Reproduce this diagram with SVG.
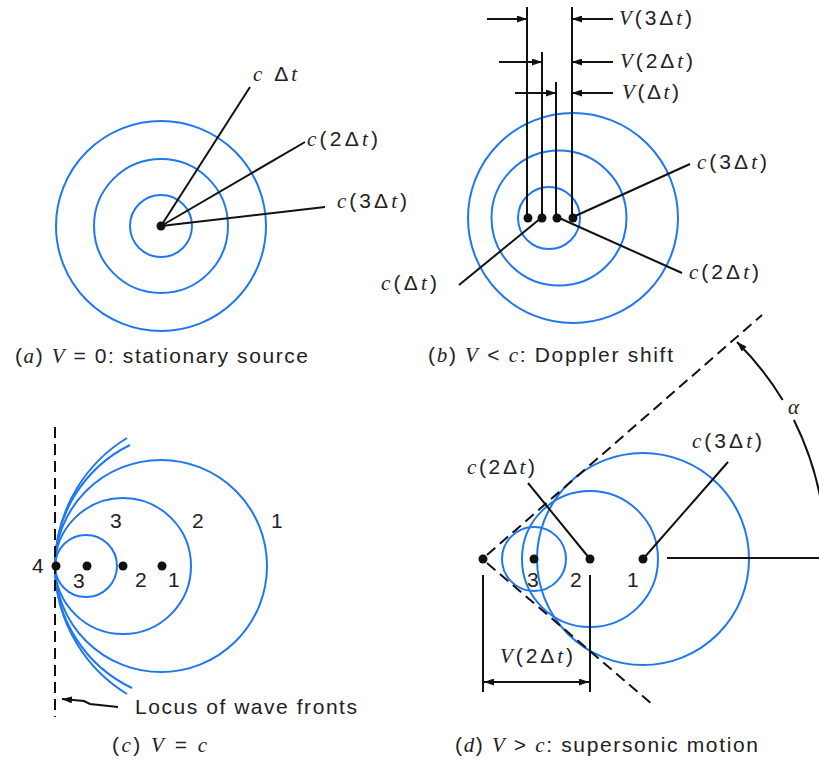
<svg xmlns="http://www.w3.org/2000/svg" width="819" height="764" viewBox="0 0 819 764">
<defs>
<style>
.w{fill:none;stroke:#1f78f0;stroke-width:2}
.k{fill:none;stroke:#111;stroke-width:2}
.d{fill:none;stroke:#111;stroke-width:2;stroke-dasharray:11 6}
.dot{fill:#111}
text{font-family:"Liberation Sans",Arial,sans-serif;font-size:21px;fill:#222}
.it{font-family:"Liberation Serif","Times New Roman",serif;font-style:italic}
</style>
<marker id="ah" viewBox="0 0 10 7" refX="10" refY="3.5" markerWidth="10" markerHeight="7" markerUnits="userSpaceOnUse" orient="auto-start-reverse">
<path d="M0,0 L10,3.5 L0,7 z" fill="#111"/>
</marker>
</defs>
<rect width="819" height="764" fill="#fff"/>

<g id="panel-a">
<g id="a-waves">
<circle class="w" cx="161" cy="226" r="31"/>
<circle class="w" cx="161" cy="226" r="67"/>
<circle class="w" cx="161" cy="226" r="105"/>
</g>
<g id="a-connectors">
<line class="k" x1="161" y1="226" x2="250" y2="87"/>
<line class="k" x1="161" y1="226" x2="305" y2="142"/>
<line class="k" x1="161" y1="226" x2="325" y2="207"/>
</g>
<circle id="a-source" class="dot" cx="161" cy="226" r="4.5"/>
<text x="253" y="81" textLength="44" lengthAdjust="spacing"><tspan class="it">c</tspan> Δ<tspan class="it">t</tspan></text>
<text x="307" y="146" textLength="71" lengthAdjust="spacing"><tspan class="it">c</tspan>(2Δ<tspan class="it">t</tspan>)</text>
<text x="337" y="208" textLength="70" lengthAdjust="spacing"><tspan class="it">c</tspan>(3Δ<tspan class="it">t</tspan>)</text>
<text x="15" y="363" textLength="293" lengthAdjust="spacing">(<tspan class="it">a</tspan>) <tspan class="it">V</tspan> = 0: stationary source</text>
</g>

<g id="panel-b">
<g id="b-waves">
<circle class="w" cx="549" cy="218" r="31"/>
<circle class="w" cx="559" cy="218" r="67.5"/>
<circle class="w" cx="573" cy="218" r="105"/>
</g>
<g id="b-connectors">
<line class="k" x1="527" y1="7" x2="527" y2="214"/>
<line class="k" x1="542" y1="52" x2="542" y2="214"/>
<line class="k" x1="556" y1="82" x2="556" y2="214"/>
<line class="k" x1="572" y1="7" x2="572" y2="214"/>
<line class="k" x1="487" y1="19" x2="527" y2="19" marker-end="url(#ah)"/>
<line class="k" x1="499" y1="62" x2="542" y2="62" marker-end="url(#ah)"/>
<line class="k" x1="515" y1="93" x2="556" y2="93" marker-end="url(#ah)"/>
<line class="k" x1="613" y1="19" x2="572" y2="19" marker-end="url(#ah)"/>
<line class="k" x1="613" y1="62" x2="572" y2="62" marker-end="url(#ah)"/>
<line class="k" x1="613" y1="93" x2="572" y2="93" marker-end="url(#ah)"/>
<line class="k" x1="573" y1="217" x2="690" y2="164"/>
<line class="k" x1="557" y1="217" x2="682" y2="273"/>
<line class="k" x1="541" y1="218" x2="459" y2="285"/>
</g>
<g id="b-sources">
<circle class="dot" cx="528" cy="218" r="4.5"/>
<circle class="dot" cx="542" cy="218" r="4.5"/>
<circle class="dot" cx="557" cy="218" r="4.5"/>
<circle class="dot" cx="573" cy="218" r="4.5"/>
</g>
<text x="619" y="25" textLength="73" lengthAdjust="spacing"><tspan class="it">V</tspan>(3Δ<tspan class="it">t</tspan>)</text>
<text x="620" y="68" textLength="73" lengthAdjust="spacing"><tspan class="it">V</tspan>(2Δ<tspan class="it">t</tspan>)</text>
<text x="622" y="99" textLength="57" lengthAdjust="spacing"><tspan class="it">V</tspan>(Δ<tspan class="it">t</tspan>)</text>
<text x="697" y="169" textLength="70" lengthAdjust="spacing"><tspan class="it">c</tspan>(3Δ<tspan class="it">t</tspan>)</text>
<text x="689" y="279" textLength="70" lengthAdjust="spacing"><tspan class="it">c</tspan>(2Δ<tspan class="it">t</tspan>)</text>
<text x="381" y="290" textLength="56" lengthAdjust="spacing"><tspan class="it">c</tspan>(Δ<tspan class="it">t</tspan>)</text>
<text x="428" y="362" textLength="245" lengthAdjust="spacing">(<tspan class="it">b</tspan>) <tspan class="it">V</tspan> &lt; <tspan class="it">c</tspan>: Doppler shift</text>
</g>

<g id="panel-c">
<g id="c-waves">
<circle class="w" cx="86" cy="566" r="31"/>
<circle class="w" cx="123" cy="566" r="68"/>
<circle class="w" cx="161" cy="566" r="106"/>
<path class="w" d="M130,445 A135,135 0 0 0 132,688"/>
<path class="w" d="M127,438 A150,150 0 0 0 127,694"/>
</g>
<g id="c-connectors">
<line class="d" x1="55" y1="427" x2="55" y2="717"/>
<path class="k" d="M118,707 L90,704 L84,701 L62,699" stroke-width="1.6" marker-end="url(#ah)"/>
</g>
<g id="c-sources">
<circle class="dot" cx="56" cy="566" r="4.5"/>
<circle class="dot" cx="87" cy="566" r="4.5"/>
<circle class="dot" cx="123" cy="566" r="4.5"/>
<circle class="dot" cx="162" cy="566" r="4.5"/>
</g>
<text x="32" y="573">4</text>
<text x="73" y="588">3</text>
<text x="135" y="587">2</text>
<text x="168" y="587">1</text>
<text x="110" y="528">3</text>
<text x="192" y="528">2</text>
<text x="271" y="528">1</text>
<text x="135" y="714" textLength="222" lengthAdjust="spacing">Locus of wave fronts</text>
<text x="112" y="752" textLength="95" lengthAdjust="spacing">(<tspan class="it">c</tspan>) <tspan class="it">V</tspan> = <tspan class="it">c</tspan></text>
</g>

<g id="panel-d">
<g id="d-waves">
<circle class="w" cx="534" cy="559" r="32"/>
<circle class="w" cx="590" cy="559" r="68"/>
<circle class="w" cx="643" cy="559" r="106"/>
</g>
<g id="d-connectors">
<line class="d" x1="487" y1="555" x2="762" y2="315"/>
<line class="d" x1="487" y1="563" x2="653" y2="705"/>
<line class="k" x1="590" y1="559" x2="528" y2="483"/>
<line class="k" x1="643" y1="559" x2="728" y2="462"/>
<line class="k" x1="667" y1="558" x2="819" y2="558"/>
<line class="k" x1="483" y1="575" x2="483" y2="692"/>
<line class="k" x1="590" y1="575" x2="590" y2="692"/>
<line class="k" x1="484" y1="682" x2="589" y2="682" marker-start="url(#ah)" marker-end="url(#ah)"/>
<path class="k" d="M782.7,400 A308,308 0 0 0 737,342" marker-end="url(#ah)"/>
<path class="k" d="M793.9,420 A308,308 0 0 1 826,556" marker-end="url(#ah)"/>
</g>
<g id="d-sources">
<circle class="dot" cx="483" cy="559" r="4.5"/>
<circle class="dot" cx="534" cy="559" r="4.5"/>
<circle class="dot" cx="590" cy="559" r="4.5"/>
<circle class="dot" cx="643" cy="559" r="4.5"/>
</g>
<text x="527" y="587">3</text>
<text x="570" y="587">2</text>
<text x="627" y="587">1</text>
<text x="467" y="474" textLength="68" lengthAdjust="spacing"><tspan class="it">c</tspan>(2Δ<tspan class="it">t</tspan>)</text>
<text x="692" y="448" textLength="70" lengthAdjust="spacing"><tspan class="it">c</tspan>(3Δ<tspan class="it">t</tspan>)</text>
<text x="500" y="663" textLength="73" lengthAdjust="spacing"><tspan class="it">V</tspan>(2Δ<tspan class="it">t</tspan>)</text>
<text class="it" x="788" y="414">α</text>
<text x="455" y="752" textLength="303" lengthAdjust="spacing">(<tspan class="it">d</tspan>) <tspan class="it">V</tspan> &gt; <tspan class="it">c</tspan>: supersonic motion</text>
</g>
</svg>
